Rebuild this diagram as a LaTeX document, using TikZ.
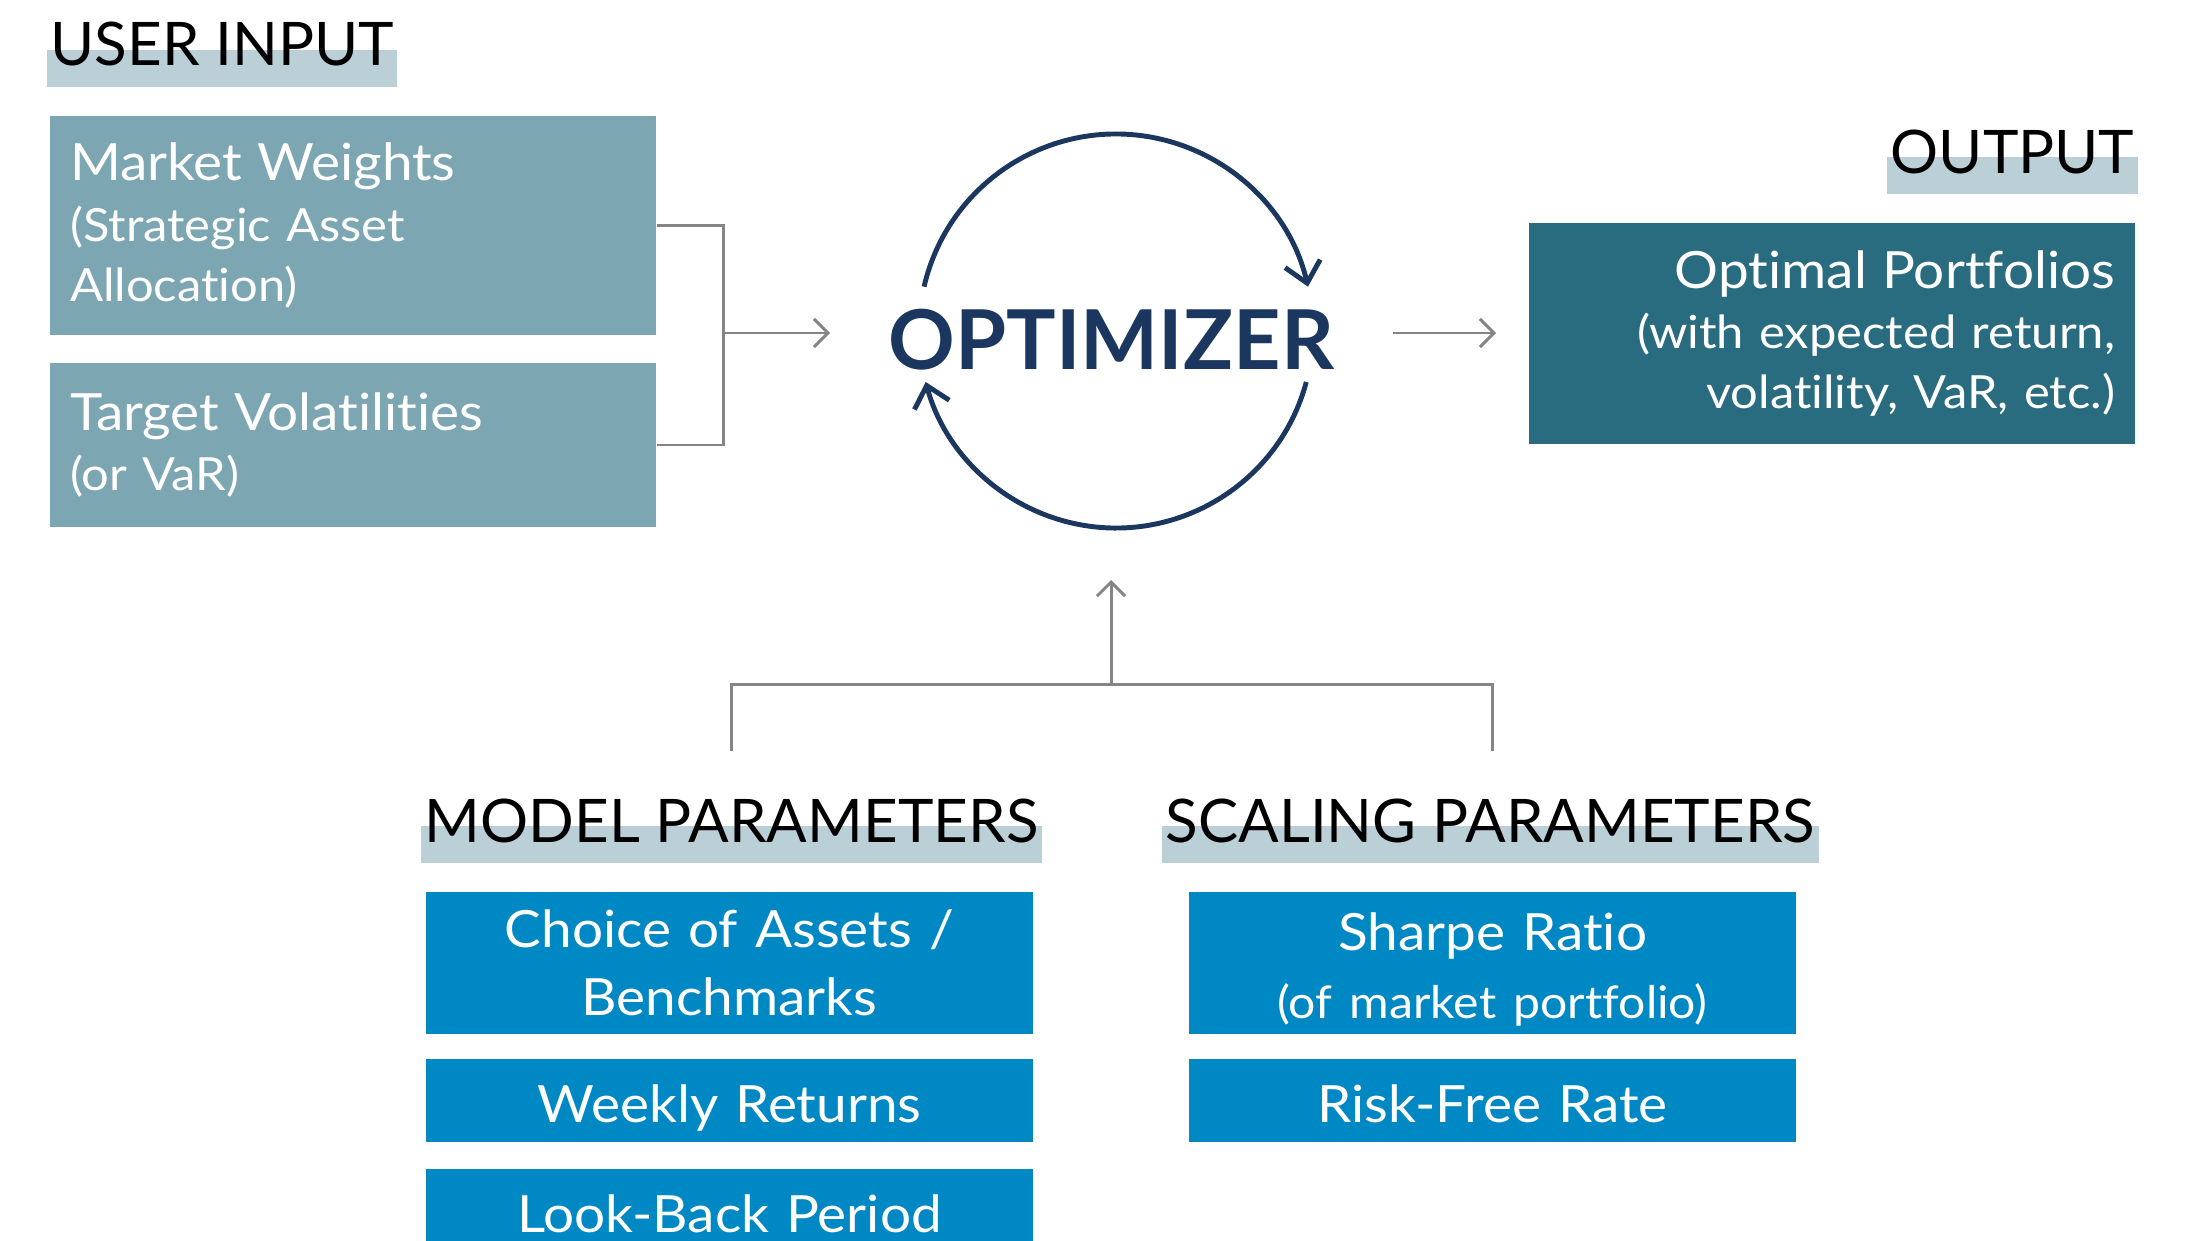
\documentclass[tikz,border=0pt]{standalone}
\usepackage{fontspec}
\setmainfont{Lato}
\newfontfamily\boxfont{Lato}[FakeStretch=1.07, Ligatures=NoCommon]
\usetikzlibrary{arrows.meta,backgrounds}

\begin{document}
\begin{tikzpicture}[
    inputBox/.style={fill=inputColour, text=white, inner xsep=0.2cm, inner ysep=0pt,
        text width=5.66cm, align=left, font=\boxfont\subSize},
    outputBox/.style={inputBox, fill=outputColour, align=right},
    paramBox/.style={fill=paramColour, text=white, inner xsep=0.2cm, inner ysep=0pt,
        text width=5.67cm, align=center, minimum height=0.83cm, font=\boxfont\paramSize},
    paramLine/.style={paramBox, text height=0.43cm, text depth=0pt},
    header/.style={inner sep=0pt, font=\headSize},
    connector/.style={draw=linkColour, line width=0.85pt},
    tip/.style={-{Straight Barb[length=1.4mm,width=2.8mm]}},
    loopArc/.style={draw=optColour, line width=1.4pt, -{Straight Barb[length=2mm,width=3.6mm]}}
]
    \def\titleSize{\fontsize{14.6}{17.1}\selectfont}
    \def\subSize{\fontsize{13}{17.1}\selectfont}
    \def\paramSize{\fontsize{14.6}{19.4}\selectfont}
    \def\paramSubSize{\fontsize{12.8}{19.4}\selectfont}
    \def\headSize{\fontsize{17.1}{20}\selectfont}

    \definecolor{inputColour}{HTML}{7DA6B3}
    \definecolor{bandColour}{HTML}{BACFD6}
    \definecolor{outputColour}{HTML}{296B7F}
    \definecolor{paramColour}{HTML}{0088C4}
    \definecolor{optColour}{HTML}{1B375F}
    \definecolor{linkColour}{HTML}{858585}

    \useasboundingbox (0,0) rectangle (21.88,12.40);

    % Section headers
    \node[header, anchor=base west] (userHead) at (0.50,11.74) {USER INPUT};
    \node[header, anchor=base east] (outHead) at (21.35,10.67) {OUTPUT};
    \node[header, anchor=base west] (modelHead) at (4.24,3.98) {MODEL PARAMETERS};
    \node[header, anchor=base west] (scaleHead) at (11.65,3.98) {SCALING PARAMETERS};
    \begin{scope}[on background layer]
        \foreach \h in {userHead,outHead,modelHead,scaleHead}
            \fill[bandColour] ([xshift=-0.03cm,yshift=-0.21cm]\h.base west) rectangle ([xshift=0.03cm,yshift=0.16cm]\h.base east);
    \end{scope}

    % User input boxes
    \node[inputBox, minimum height=2.19cm] (weights) at (3.53,10.145) {{\titleSize Market Weights}\\(Strategic Asset\\Allocation)};
    \node[inputBox, minimum height=1.64cm] (targets) at (3.53,7.95) {{\titleSize Target Volatilities}\\(or VaR)};

    % Optimizer loop
    \coordinate (ring) at (11.16,9.09);
    \node[anchor=base, text=optColour, font=\bfseries\fontsize{23.5}{28}\selectfont, inner sep=0pt] (optimizer) at (11.115,8.71) {OPTIMIZER};
    \draw[loopArc] ([shift={(167:1.97)}]ring) arc[start angle=167, end angle=13, radius=1.97];
    \draw[loopArc] ([shift={(-15:1.97)}]ring) arc[start angle=-15, end angle=-165, radius=1.97];

    % Output box
    \node[outputBox, minimum height=2.21cm] (portfolios) at (18.32,9.065) {{\titleSize Optimal Portfolios}\\(with expected return,\\volatility, VaR, etc.)};

    % Input bracket and arrows
    \coordinate (inJoin) at (7.23,9.07);
    \coordinate (inTip) at (8.30,9.07);
    \coordinate (outStart) at (13.93,9.07);
    \coordinate (outTip) at (14.96,9.07);
    \draw[connector] (weights.east) -| (inJoin) |- (targets.east);
    \draw[connector, tip] (inJoin) -- (inTip);
    \draw[connector, tip] (outStart) -- (outTip);

    % Parameter boxes
    \node[paramBox, minimum height=1.42cm] (assets) at (7.295,2.775) {Choice of Assets /\\Benchmarks};
    \node[paramLine] (weekly) at (7.295,1.395) {Weekly Returns};
    \begin{scope}
        \clip (0,0) rectangle (21.88,12.40);
        \node[paramLine] (lookback) at (7.295,0.295) {Look-Back Period};
    \end{scope}
    \node[paramBox, minimum height=1.42cm] (sharpe) at (14.925,2.775) {\rule{0pt}{0.52cm}Sharpe Ratio\\{\paramSubSize (of market portfolio)}};
    \node[paramLine] (riskfree) at (14.925,1.395) {Risk-Free Rate};

    % Parameter bracket and arrow
    \coordinate (hub) at (11.11,5.56);
    \coordinate (hubTip) at (11.11,6.60);
    \coordinate (modelLeg) at (7.31,4.89);
    \coordinate (scaleLeg) at (14.92,4.89);
    \draw[connector] (modelLeg) |- (hub) -| (scaleLeg);
    \draw[connector, tip] (hub) -- (hubTip);

\end{tikzpicture}
\end{document}
